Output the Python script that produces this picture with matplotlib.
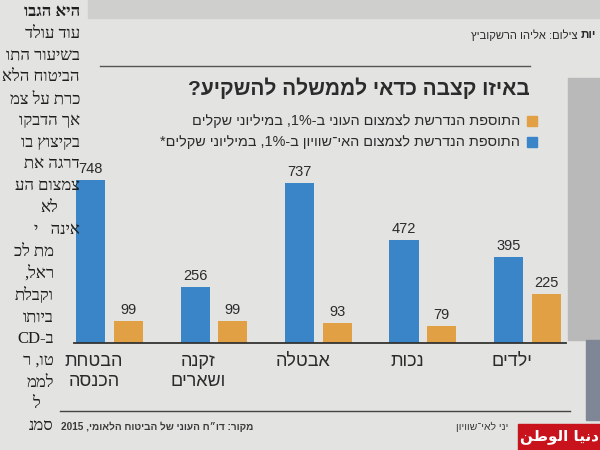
#!/usr/bin/env python3
"""
Newspaper bar chart: which benefit should the government invest in?
(Hebrew, right-to-left text is laid out by hand since matplotlib has no bidi)
"""

import re
import numpy as np
import matplotlib.pyplot as plt
from matplotlib.patches import Rectangle

# Data, left to right as printed
categories = ['הבטחת\nהכנסה', 'זקנה\nושארים', 'אבטלה', 'נכות', 'ילדים']
inequality_cost = [748, 256, 737, 472, 395]   # blue
poverty_cost = [99, 99, 93, 79, 225]          # orange

title = 'באיזו קצבה כדאי לממשלה להשקיע?'
legend_poverty = 'התוספת הנדרשת לצמצום העוני ב-1%, במיליוני שקלים'
legend_inequality = 'התוספת הנדרשת לצמצום האי־שוויון ב-1%, במיליוני שקלים*'
source = 'מקור: דו״ח העוני של הביטוח הלאומי, 2015'
footnote = 'יני לאי־שוויון'
credit = 'צילום: אליהו הרשקוביץ'
credit_prefix = 'יות'

# The article column at the left edge of the page (only its line starts show)
column_lines = ['היא הגבו', 'עוד עולד', 'בשיעור התו', 'הביטוח הלא', 'כרת על צמ',
                'אך הדבקו', 'בקיצוץ בו', 'דרגה את', 'צמצום הע', 'לא', 'אינה   י',
                'מת לכ', 'ראל,', 'וקבלת', 'ביותו', 'ב-CD', 'טו, ר', 'לממ', 'ל', 'סמנ']

BLUE = '#3a85c8'
ORANGE = '#e2a044'
PAPER = '#e3e3e1'
INK = '#2b2b2b'

W, H = 600, 450


def rtl(s):
    """Turn logical Hebrew text into visual (left-to-right) order."""
    out = []
    for line in s.split('\n'):
        r = line[::-1]
        r = re.sub(r'[0-9A-Za-z%]+', lambda m: m.group(0)[::-1], r)
        out.append(r)
    return '\n'.join(out)


def fx(x):
    return x / W


def fy(y):
    return 1 - y / H


plt.rcParams['font.family'] = ['Liberation Sans', 'DejaVu Sans']

fig = plt.figure(figsize=(6, 4.5), dpi=100)
fig.patch.set_facecolor(PAPER)

# photo strip at the top and grey page edge on the right
fig.patches.append(Rectangle((fx(88), fy(18)), fx(512), 18 / H, transform=fig.transFigure,
                             color='#cfcfcd', zorder=0))
fig.patches.append(Rectangle((fx(568), fy(340)), fx(32), 262 / H, transform=fig.transFigure,
                             color='#b9b9b9', zorder=0))
fig.patches.append(Rectangle((fx(586), fy(420)), fx(14), 80 / H, transform=fig.transFigure,
                             color='#7f8796', zorder=0))

# article column
for i, line in enumerate(column_lines):
    y = 12 + i * 21.8
    right = 80 if i < 11 else 54
    if line == 'לא':
        right = 58
    if line == 'ל':
        right = 40
    fig.text(fx(right), fy(y), rtl(line), ha='right', va='center', fontsize=12,
             color='#1e1e1e', family=['Liberation Serif', 'DejaVu Sans'],
             fontweight='bold' if i == 0 else 'normal')

# credit line and top rule
fig.text(fx(578), fy(35), rtl(credit), ha='right', va='center', fontsize=8, color=INK)
fig.text(fx(581), fy(35), rtl(credit_prefix), ha='left', va='center', fontsize=8.5,
         fontweight='bold', color=INK)
fig.add_artist(plt.Line2D([fx(100), fx(530)], [fy(66), fy(66)], color='#555555', lw=1))

# title and legend
fig.text(fx(530), fy(88), rtl(title), ha='right', va='center', fontsize=15,
         fontweight='bold', color=INK)
for y, col, label in [(121, ORANGE, legend_poverty), (142, BLUE, legend_inequality)]:
    fig.patches.append(Rectangle((fx(527), fy(y + 5)), 10 / W, 10 / H,
                                 transform=fig.transFigure, color=col))
    fig.text(fx(520), fy(y), rtl(label), ha='right', va='center', fontsize=10.4, color=INK)

# bars
ax = fig.add_axes([fx(74), fy(343), 492 / W, 174 / H])
ax.set_facecolor('none')
x = np.arange(len(categories))
ax.bar(x - 0.18, inequality_cost, width=0.28, color=BLUE)
ax.bar(x + 0.18, poverty_cost, width=0.28, color=ORANGE)
for xi, b, o in zip(x, inequality_cost, poverty_cost):
    ax.annotate(str(b), (xi - 0.18, b), xytext=(0, 3), textcoords='offset points',
                ha='center', va='bottom', fontsize=10.5, color=INK)
    ax.annotate(str(o), (xi + 0.18, o), xytext=(0, 3), textcoords='offset points',
                ha='center', va='bottom', fontsize=10.5, color=INK)

ax.set_xlim(-0.34, 4.37)
ax.set_ylim(0, 800)
ax.set_xticks(x - 0.15)
ax.set_xticklabels([rtl(c) for c in categories], fontsize=13, color=INK, linespacing=1.25)
ax.tick_params(axis='x', length=0, pad=7)
ax.set_yticks([])
for side in ['top', 'left', 'right']:
    ax.spines[side].set_visible(False)
ax.spines['bottom'].set_color('#333333')
ax.spines['bottom'].set_linewidth(1.3)

# bottom rule and source
fig.add_artist(plt.Line2D([fx(60), fx(570)], [fy(411), fy(411)], color='#444444', lw=1))
fig.text(fx(253), fy(427), rtl(source), ha='right', va='center', fontsize=7.2,
         fontweight='bold', color='#3a3a3a')
fig.text(fx(508), fy(427), rtl(footnote), ha='right', va='center', fontsize=7.5,
         color='#3a3a3a')

# site watermark
fig.patches.append(Rectangle((fx(518), 0), fx(82), 26 / H, transform=fig.transFigure,
                             color='#c8121c', zorder=5))
fig.text(fx(559), fy(437), '\uFEE6\uFEC3\uFEEE\uFEDF\uFE8D \uFE8E\uFEF4\uFEE7\uFEA9',
         ha='center', va='center', fontsize=11, fontweight='bold', color='white',
         family=['DejaVu Sans'], zorder=6)

fig.savefig('out.png', dpi=100, facecolor=PAPER)
